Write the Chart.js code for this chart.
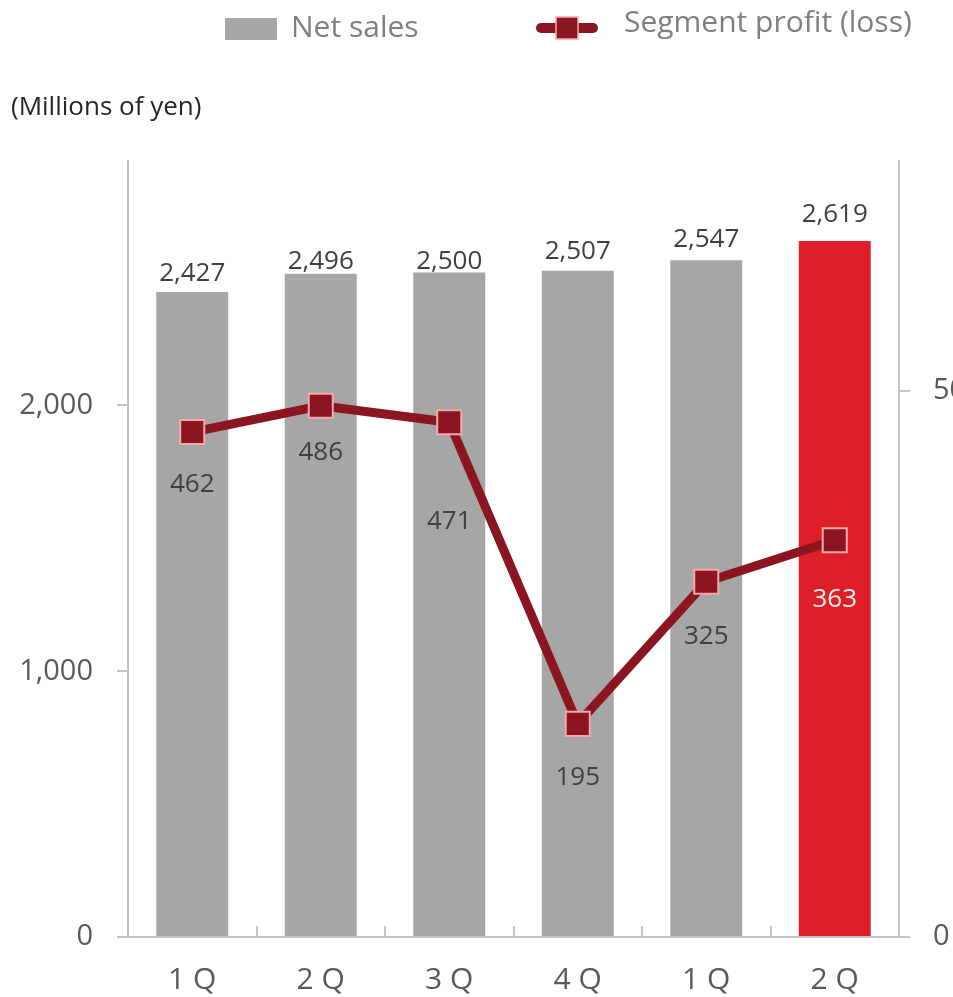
<html lang="en">
  <head>
    <meta charset="UTF-8" />
    <script src="https://cdn.jsdelivr.net/npm/chart.js"></script>
    <title>Net sales and segment profit</title>
    <style>
      body { margin: 0; overflow: hidden; background: #fff; }
    </style>
  </head>
  <body>
    <canvas id="salesChart" width="1000" height="997"></canvas>
    <script>
      // quarterly figures
      const quarters = ["1 Q", "2 Q", "3 Q", "4 Q", "1 Q", "2 Q"];
      const netSales = [2427, 2496, 2500, 2507, 2547, 2619];
      const segmentProfit = [462, 486, 471, 195, 325, 363];

      const salesTicks = [0, 1000, 2000];
      const profitTicks = [0, 500];

      const barColors = ["#a6a6a6", "#a6a6a6", "#a6a6a6", "#a6a6a6", "#a6a6a6", "#dc1f28"];
      const lineColor = "#8b1520";
      const markerEdge = "#f4a7ad";
      // label placement: gap above each bar top, gap below each marker
      const salesLabelGap = [18, 12, 11, 19, 21, 26];
      const profitLabelGap = [53, 47, 99, 54, 55, 59];
      const profitLabelColors = ["#404040", "#404040", "#404040", "#404040", "#404040", "#ffecec"];

      const FONT = "'Open Sans', 'Noto Sans', sans-serif";
      const axisGray = "#c4c4c4";

      // legend and unit caption drawn straight on the canvas
      const headerPlugin = {
        id: "header",
        afterDraw(chart) {
          const ctx = chart.ctx;
          ctx.save();
          ctx.fillStyle = "#a6a6a6";
          ctx.fillRect(225, 18, 52, 22);

          ctx.font = "30px " + FONT;
          ctx.fillStyle = "#7f7f7f";
          ctx.textBaseline = "middle";
          ctx.textAlign = "left";
          ctx.fillText(chart.data.datasets[1].label, 291, 28);

          ctx.strokeStyle = lineColor;
          ctx.lineWidth = 10;
          ctx.lineCap = "round";
          ctx.beginPath();
          ctx.moveTo(541, 28);
          ctx.lineTo(593, 28);
          ctx.stroke();
          ctx.fillStyle = lineColor;
          ctx.fillRect(556, 17, 22, 22);
          ctx.strokeStyle = markerEdge;
          ctx.lineWidth = 1.5;
          ctx.strokeRect(556, 17, 22, 22);

          ctx.fillStyle = "#7f7f7f";
          ctx.fillText(chart.data.datasets[0].label, 624, 23);

          ctx.font = "26px " + FONT;
          ctx.fillStyle = "#262626";
          ctx.fillText("(Millions of yen)", 11, 108);
          ctx.restore();
        },
      };

      // value labels above bars and under line markers
      const valueLabels = {
        id: "valueLabels",
        afterDatasetsDraw(chart) {
          const ctx = chart.ctx;
          ctx.save();
          ctx.font = "26px " + FONT;
          ctx.textAlign = "center";
          ctx.textBaseline = "middle";

          const bars = chart.getDatasetMeta(1).data;
          ctx.fillStyle = "#404040";
          bars.forEach((bar, i) => {
            ctx.fillText(netSales[i].toLocaleString("en-US"), bar.x, bar.y - salesLabelGap[i]);
          });

          const points = chart.getDatasetMeta(0).data;
          points.forEach((pt, i) => {
            ctx.fillStyle = profitLabelColors[i];
            ctx.fillText(String(segmentProfit[i]), pt.x, pt.y + profitLabelGap[i]);
          });
          ctx.restore();
        },
      };

      const fmt = (v) => Number(v).toLocaleString("en-US");

      new Chart(document.getElementById("salesChart"), {
        data: {
          labels: quarters,
          datasets: [
            {
              type: "line",
              label: "Segment profit (loss)",
              data: segmentProfit,
              yAxisID: "y1",
              borderColor: lineColor,
              borderWidth: 9,
              tension: 0,
              pointStyle: "rect",
              pointRadius: 17,
              pointBackgroundColor: lineColor,
              pointBorderColor: markerEdge,
              pointBorderWidth: 2,
            },
            {
              type: "bar",
              label: "Net sales",
              data: netSales,
              yAxisID: "y",
              backgroundColor: barColors,
              barPercentage: 0.56,
              categoryPercentage: 1,
            },
          ],
        },
        options: {
          responsive: false,
          animation: false,
          devicePixelRatio: 1,
          layout: { padding: { top: 161, left: 0, right: 0, bottom: 0 } },
          plugins: { legend: { display: false }, tooltip: { enabled: false } },
          scales: {
            x: {
              offset: true,
              grid: {
                offset: true,
                drawOnChartArea: false,
                tickLength: -11,
                color: axisGray,
                lineWidth: 2,
              },
              border: { color: axisGray, width: 2 },
              ticks: { font: { family: FONT, size: 30 }, color: "#595959", padding: 36 },
              afterFit(scale) { scale.height = 60; },
            },
            y: {
              position: "left",
              min: 0,
              max: 2920,
              grid: { drawOnChartArea: false, tickLength: 11, color: axisGray, lineWidth: 2 },
              border: { color: axisGray, width: 2 },
              ticks: { font: { family: FONT, size: 29 }, color: "#595959", padding: 24, callback: fmt },
              afterBuildTicks(scale) { scale.ticks = salesTicks.map((v) => ({ value: v })); },
              afterFit(scale) { scale.width = 128; },
            },
            y1: {
              position: "right",
              min: 0,
              max: 710,
              grid: { drawOnChartArea: false, tickLength: 11, color: axisGray, lineWidth: 2 },
              border: { color: axisGray, width: 2 },
              ticks: { font: { family: FONT, size: 29 }, color: "#595959", padding: 23, callback: fmt },
              afterBuildTicks(scale) { scale.ticks = profitTicks.map((v) => ({ value: v })); },
              afterFit(scale) { scale.width = 101; },
            },
          },
        },
        plugins: [headerPlugin, valueLabels],
      });
    </script>
  </body>
</html>
